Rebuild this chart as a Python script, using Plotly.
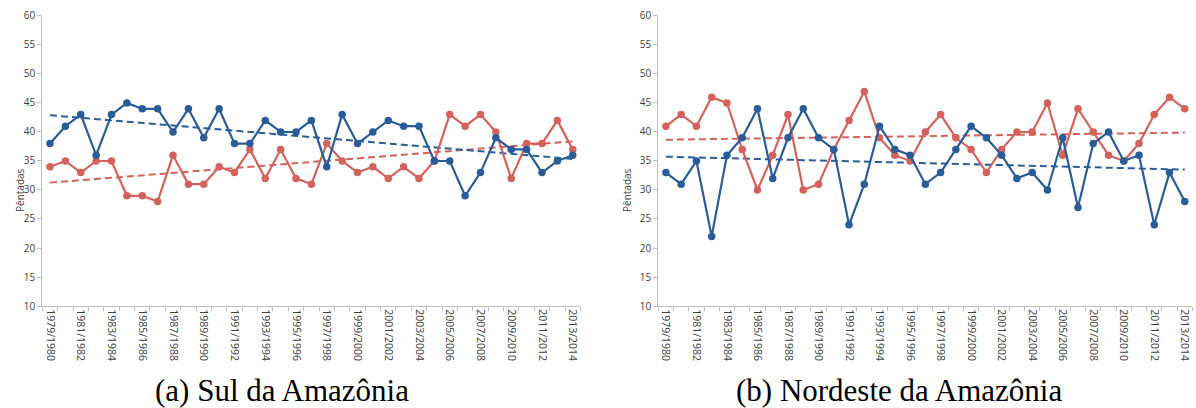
import numpy as np
import plotly.graph_objects as go

seasons = [f"{y}/{y+1}" for y in range(1979, 2014)]
tick_labels = seasons[::2]

sul_blue = [38,41,43,36,43,45,44,44,40,44,39,44,38,38,42,40,40,42,34,43,38,40,42,41,41,35,35,29,33,39,37,37,33,35,36]
sul_red = [34,35,33,35,35,29,29,28,36,31,31,34,33,37,32,37,32,31,38,35,33,34,32,34,32,35,43,41,43,40,32,38,38,42,37]
ne_blue = [33,31,35,22,36,39,44,32,39,44,39,37,24,31,41,37,36,31,33,37,41,39,36,32,33,30,39,27,38,40,35,36,24,33,28]
ne_red = [41,43,41,46,45,37,30,36,43,30,31,37,42,47,39,36,35,40,43,39,37,33,37,40,40,45,36,44,40,36,35,38,43,46,44]

BLUE = "#2A5D97"
RED = "#D3625C"
AXIS = "#BFBFBF"
TXT = "#404040"

idx = np.arange(len(seasons))
fig = go.Figure()

def add_panel(blue, red, xa, ya):
    for vals, col in ((red, RED), (blue, BLUE)):
        slope, icpt = np.polyfit(idx, vals, 1)
        trend = slope * idx + icpt
        fig.add_trace(go.Scatter(x=idx, y=trend, mode="lines", xaxis=xa, yaxis=ya,
                                 line=dict(color=col, width=2, dash="7px,4px"),
                                 hoverinfo="skip", showlegend=False))
    for vals, col in ((red, RED), (blue, BLUE)):
        fig.add_trace(go.Scatter(x=idx, y=vals, mode="lines+markers", xaxis=xa, yaxis=ya,
                                 line=dict(color=col, width=2.2),
                                 marker=dict(color=col, size=7.5),
                                 text=seasons, showlegend=False, cliponaxis=False))

add_panel(sul_blue, sul_red, "x", "y")
add_panel(ne_blue, ne_red, "x2", "y2")

xcommon = dict(range=[-0.5, len(seasons) - 0.5], tickmode="array",
               tickvals=list(idx[::2]), ticktext=tick_labels, tickangle=90,
               ticks="", showgrid=False, zeroline=False, showline=True,
               linecolor=AXIS, linewidth=1.3, automargin=False,
               tickfont=dict(family="Open Sans", size=10.5, color=TXT),
               minor=dict(tickvals=list(np.arange(-0.5, len(seasons), 1.0)),
                          ticks="outside", ticklen=4, tickcolor=AXIS, tickwidth=1.2, showgrid=False))
ycommon = dict(range=[10, 60], tickvals=list(range(10, 61, 5)), ticks="outside",
               ticklen=4, tickcolor=AXIS, tickwidth=1.2, showgrid=False, zeroline=False,
               showline=True, linecolor=AXIS, linewidth=1.3, automargin=False,
               tickfont=dict(family="Open Sans", size=10, color=TXT), domain=[0.25, 0.9608])

fig.update_layout(
    width=1196, height=408, margin=dict(l=0, r=0, t=0, b=0, pad=0, autoexpand=False),
    paper_bgcolor="white", plot_bgcolor="white",
    xaxis=dict(domain=[0.0354, 0.4853], anchor="y", **xcommon),
    yaxis=dict(anchor="x", **ycommon),
    xaxis2=dict(domain=[0.5504, 0.9970], anchor="y2", **xcommon),
    yaxis2=dict(anchor="x2", **ycommon),
)

for xp in (11 / 1196, 627 / 1196):
    fig.add_annotation(text="Pêntadas", x=xp, y=1 - 190 / 408, xref="paper", yref="paper",
                       textangle=-90, showarrow=False,
                       font=dict(family="Open Sans", size=10, color=TXT))

for txt, xc in (("(a) Sul da Amazônia", 282 / 1196), ("(b) Nordeste da Amazônia", 899 / 1196)):
    fig.add_annotation(text=txt, x=xc, y=1 - 390 / 408, xref="paper", yref="paper",
                       showarrow=False, xanchor="center", yanchor="middle",
                       font=dict(family="Liberation Serif", size=31, color="black"))

fig.write_html("out.html", config={"displayModeBar": False},
               post_script="document.body.style.margin='0';document.body.style.overflow='hidden';")
